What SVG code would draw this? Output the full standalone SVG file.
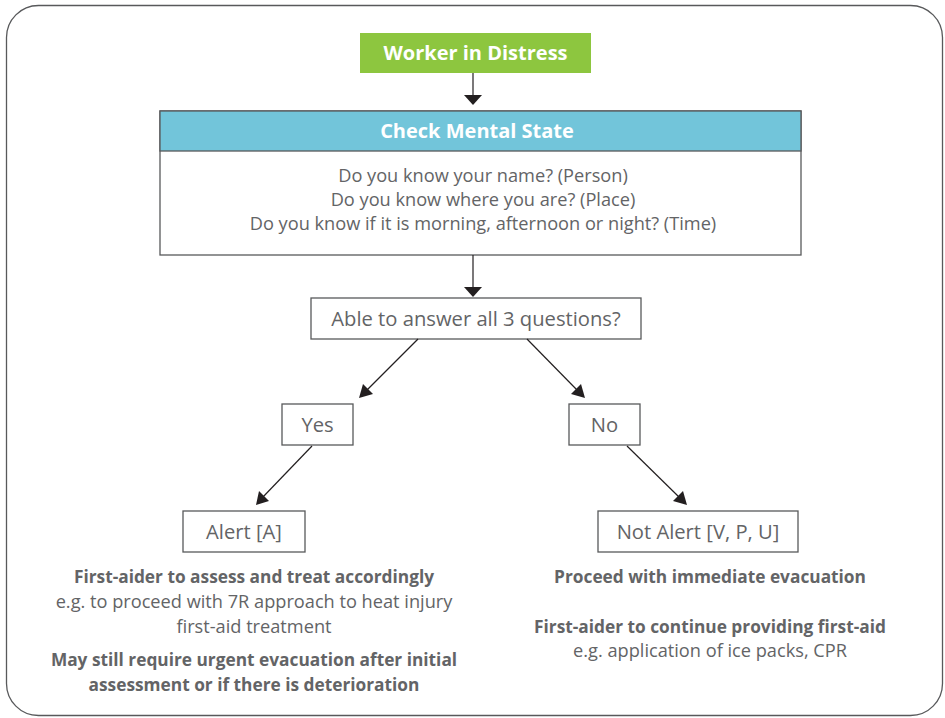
<svg xmlns="http://www.w3.org/2000/svg" width="945" height="718" viewBox="0 0 945 718">
<defs>
<style>
text{font-family:"Open Sans","Liberation Sans",sans-serif;fill:#636466;text-anchor:middle}
.box{fill:#fff;stroke:#58595b;stroke-width:1.3}
.t{font-size:18.2px}
.b{font-weight:bold;font-size:17.3px}
.big{font-size:20.2px}
.hd{font-weight:bold;font-size:20px;fill:#fff}
.conn line{stroke:#231f20;stroke-width:1.2}
.conn polygon{fill:#231f20}
</style>
</defs>
<rect x="6.5" y="5.5" width="936" height="710" rx="32" fill="#fff" stroke="#58595b" stroke-width="1.3"/>
<g id="worker">
<rect x="360" y="33" width="231" height="40" fill="#8dc63f"/>
<text x="475.5" y="60" class="hd">Worker in Distress</text>
</g>
<g id="check">
<rect x="160" y="111" width="641" height="144" class="box"/>
<rect x="160" y="111" width="641" height="40" fill="#72c5da" stroke="#58595b" stroke-width="1.3"/>
<text x="477" y="138" class="hd">Check Mental State</text>
<text x="483" y="182" class="t">Do you know your name? (Person)</text>
<text x="483" y="206" class="t">Do you know where you are? (Place)</text>
<text x="483" y="230" class="t">Do you know if it is morning, afternoon or night? (Time)</text>
</g>
<g id="able">
<rect x="311" y="298" width="330" height="41" class="box"/>
<text x="476" y="326" class="big">Able to answer all 3 questions?</text>
</g>
<g id="yes">
<rect x="282" y="404" width="71" height="41" class="box"/>
<text x="317.5" y="432" class="big">Yes</text>
</g>
<g id="no">
<rect x="569" y="404" width="71" height="41" class="box"/>
<text x="604.5" y="432" class="big">No</text>
</g>
<g id="alert">
<rect x="183" y="511" width="122" height="41" class="box"/>
<text x="244" y="539" class="big">Alert [A]</text>
</g>
<g id="notalert">
<rect x="598" y="511" width="200" height="41" class="box"/>
<text x="698" y="539" class="big">Not Alert [V, P, U]</text>
</g>
<g id="alert-notes">
<text x="254" y="583" class="b">First-aider to assess and treat accordingly</text>
<text x="254" y="608" class="t">e.g. to proceed with 7R approach to heat injury</text>
<text x="254" y="633" class="t">first-aid treatment</text>
<text x="254" y="666" class="b">May still require urgent evacuation after initial</text>
<text x="254" y="691" class="b">assessment or if there is deterioration</text>
</g>
<g id="notalert-notes">
<text x="710" y="583" class="b">Proceed with immediate evacuation</text>
<text x="710" y="633" class="b">First-aider to continue providing first-aid</text>
<text x="710" y="657" class="t">e.g. application of ice packs, CPR</text>
</g>
<g class="conn" id="connectors">
<line x1="473" y1="73" x2="473" y2="97"/>
<polygon points="464,95 482,95 473,105"/>
<line x1="473" y1="255" x2="473" y2="289"/>
<polygon points="464,287 482,287 473,297"/>
<line x1="418" y1="339" x2="366" y2="391"/>
<polygon points="359,398 363,384 373,394"/>
<line x1="527" y1="339" x2="578" y2="391"/>
<polygon points="585,398 571,394 581,384"/>
<line x1="312" y1="446" x2="262" y2="498"/>
<polygon points="256,505 259,491 269,501"/>
<line x1="627" y1="446" x2="680" y2="498"/>
<polygon points="687,505 673,501 683,491"/>
</g>
</svg>
